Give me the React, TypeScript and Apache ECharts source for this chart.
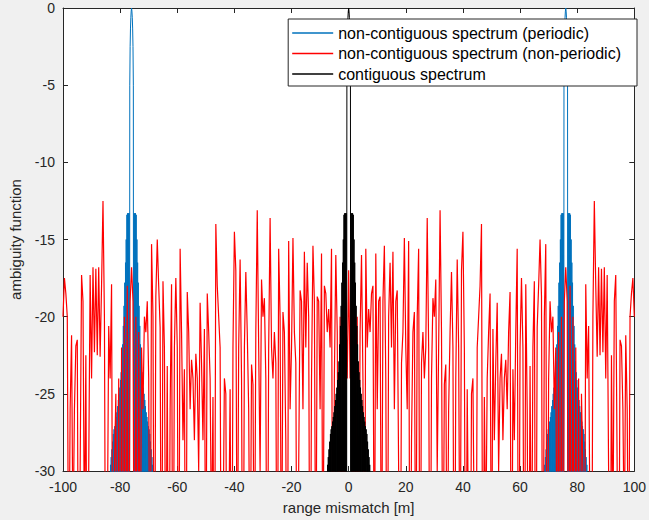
import React, { useEffect, useRef } from "react";
import * as echarts from "echarts";

// Red (non-periodic) ambiguity function, sampled every 0.5 m.
// Left half: -100 .. -0.5 m
const redLeft = [
  -20, -17.5, -18.5, -20, -40, -26, -21.2, -35, -26, -21.9,
  -21.5, -45, -30, -17.3, -19, -35, -22.5, -45, -30, -17.3,
  -24, -16.8, -22.3, -16.9, -22.5, -16.8, -22.6, -18, -12.5, -20,
  -45, -35, -20.6, -24, -17.9, -45, -30, -25, -45, -24,
  -45, -22, -45, -20, -45, -18, -45, -19, -16.8, -19,
  -45, -20, -45, -21, -40, -22, -26, -20, -21, -19.0,
  -24, -45, -15.3, -20, -45, -18.7, -15.0, -18, -20.7, -45,
  -17.7, -22, -40, -23.2, -45, -26, -17.9, -45, -22, -17.5,
  -22, -45, -15.6, -21, -28, -23.4, -45, -18.4, -21, -26,
  -22.8, -24, -28, -22.4, -24, -30, -19.1, -23, -28, -20.8,
  -40, -18.5, -21, -24, -35, -25.2, -45, -14, -18, -20,
  -22, -45, -35, -24, -25, -45, -35, -24.7, -45, -22,
  -14.5, -17, -40, -22, -16.3, -24, -45, -22, -17.1, -21,
  -26, -40, -23.1, -24.4, -40, -21, -13.1, -22, -30, -17.6,
  -20, -18.8, -24, -45, -22, -13.6, -22, -24, -21, -23,
  -45, -15.6, -20, -40, -19.7, -21, -28, -45, -15.1, -26,
  -22, -14.9, -21, -23, -45, -30, -18.3, -19, -26, -15.8,
  -22, -16.5, -20, -45, -24, -15.4, -19, -40, -18.7, -19,
  -26, -15.9, -40, -18, -18.5, -21, -19.5, -22, -15.6, -45,
  -24, -16.0, -21, -40, -20, -45, -21, -40, -19, -24,
];
// Right half: 0 .. 100 m
const redRight = [
  -17, -24, -19, -40, -21, -45, -20, -40, -21, -16.0,
  -24, -45, -15.6, -22, -19.5, -21, -18.5, -18, -40, -15.9,
  -26, -19, -18.7, -40, -19, -15.4, -24, -45, -20, -16.5,
  -22, -15.8, -26, -19, -18.3, -30, -45, -23, -21, -14.9,
  -22, -26, -15.1, -45, -28, -21, -19.7, -40, -20, -15.6,
  -45, -23, -21, -24, -22, -13.6, -22, -45, -24, -18.8,
  -20, -17.6, -30, -22, -13.1, -21, -40, -24.4, -23.1, -40,
  -26, -21, -17.1, -22, -45, -24, -16.3, -22, -40, -17,
  -14.5, -22, -45, -24.7, -35, -45, -25, -24, -35, -45,
  -22, -20, -18, -14, -45, -25.2, -35, -24, -21, -18.5,
  -40, -20.8, -28, -23, -19.1, -30, -24, -22.4, -28, -24,
  -22.8, -26, -21, -18.4, -45, -23.4, -28, -21, -15.6, -45,
  -22, -17.5, -22, -45, -17.9, -26, -45, -23.2, -40, -22,
  -17.7, -45, -20.7, -18, -15.0, -18.7, -45, -20, -15.3, -45,
  -24, -19.0, -21, -20, -26, -22, -40, -21, -45, -20,
  -45, -19, -16.8, -19, -45, -18, -45, -20, -45, -22,
  -45, -24, -45, -25, -30, -45, -17.9, -24, -20.6, -35,
  -45, -20, -12.5, -18, -22.6, -16.8, -22.5, -16.9, -22.3, -16.8,
  -24, -17.3, -30, -45, -22.5, -35, -19, -17.3, -30, -45,
  -21.5, -21.9, -26, -35, -21.2, -26, -40, -20, -18.5, -17.5,
  -20,
];

// Main lobe and sidelobe levels (dB) around a peak, sampled every 0.125 m (offsets -7.75 .. 7.75)
const lobeLevels = [
  -50, -30.2, -50, -29.6, -50, -29.1, -50, -28.6, -50, -28.1,
  -50, -27.6, -50, -27.3, -50, -27.1, -50, -26.8, -50, -26.5,
  -50, -26.2, -50, -25.8, -50, -25.4, -50, -25.0, -50, -24.6,
  -50, -24.1, -50, -23.6, -50, -22.9, -50, -21.8, -50, -20.6,
  -50, -19.3, -50, -17.8, -50, -16.5, -50, -15, -50, -13.4,
  -50, -13.3, -50, -13.3, -50, -13.3, -50, -5, -2.5, -1.3,
  -0.6, -0.2,
  0,
  -0.2, -0.6, -1.3, -2.5, -5, -50,
  -13.3, -50, -13.3, -50, -13.3, -50, -13.4, -50, -15, -50,
  -16.5, -50, -17.8, -50, -19.3, -50, -20.6, -50, -21.8, -50,
  -22.9, -50, -23.6, -50, -24.1, -50, -24.6, -50, -25.0, -50,
  -25.4, -50, -25.8, -50, -26.2, -50, -26.5, -50, -26.8, -50,
  -27.1, -50, -27.3, -50, -27.6, -50, -28.1, -50, -28.6, -50,
  -29.1, -50, -29.6, -50, -30.2, -50,
];
const lobeCenterIndex = 62;
const lobeStep = 0.125;
const blueCenters = [-76, 76];
const blackCenters = [0];

const seriesNames = [
  "non-contiguous spectrum (periodic)",
  "non-contiguous spectrum (non-periodic)",
  "contiguous spectrum",
];
const seriesColors = ["#0072BD", "#FF0000", "#000000"];

const FONT = "'Liberation Sans', Arial, Helvetica, sans-serif";
const AX = "#262626";

function lobeData(centers: number[]) {
  const out: any[] = [];
  centers.forEach((c, idx) => {
    if (idx > 0) out.push([c, "-"]);
    lobeLevels.forEach((v, j) => out.push([c + (j - lobeCenterIndex) * lobeStep, v]));
  });
  return out;
}

export default function App() {
  const ref = useRef<HTMLDivElement>(null);
  useEffect(() => {
    document.body.style.margin = "0";
    const chart = echarts.init(ref.current!, null, { renderer: "svg" });
    const redValues = [...redLeft, ...redRight];
    const redData = redValues.map((v, i) => [-100 + i * 0.5, v]);

    const baseX = {
      type: "value" as const,
      min: -100,
      max: 100,
      interval: 20,
      splitLine: { show: false },
      axisLine: { show: true, onZero: false, lineStyle: { color: AX, width: 1 } },
      axisTick: { show: true, inside: true, length: 5, lineStyle: { color: AX } },
    };
    const baseY = {
      type: "value" as const,
      min: -30,
      max: 0,
      interval: 5,
      splitLine: { show: false },
      axisLine: { show: true, onZero: false, lineStyle: { color: AX, width: 1 } },
      axisTick: { show: true, inside: true, length: 5, lineStyle: { color: AX } },
    };

    chart.setOption({
      animation: false,
      backgroundColor: "#f0f0f0",
      textStyle: { fontFamily: FONT },
      grid: {
        left: 52,
        right: 12,
        top: 8,
        bottom: 49,
        show: true,
        backgroundColor: "#ffffff",
        borderWidth: 0,
      },
      xAxis: [
        {
          ...baseX,
          position: "bottom",
          axisLabel: { color: AX, fontSize: 14, margin: 9, fontFamily: FONT },
          name: "range mismatch [m]",
          nameLocation: "middle",
          nameGap: 29,
          nameTextStyle: { color: AX, fontSize: 15, fontFamily: FONT },
        },
        { ...baseX, position: "top", axisLabel: { show: false } },
      ],
      yAxis: [
        {
          ...baseY,
          position: "left",
          axisLabel: { color: AX, fontSize: 14, margin: 8, fontFamily: FONT },
          name: "ambiguity function",
          nameLocation: "middle",
          nameGap: 40,
          nameTextStyle: { color: AX, fontSize: 15, fontFamily: FONT },
        },
        { ...baseY, position: "right", axisLabel: { show: false } },
      ],
      legend: {
        right: 12,
        top: 19,
        orient: "vertical",
        icon: "rect",
        itemWidth: 41,
        itemHeight: 1.5,
        itemGap: 0.5,
        backgroundColor: "#ffffff",
        borderColor: AX,
        borderWidth: 1,
        borderRadius: 0,
        padding: [4, 16, 2, 4],
        selectedMode: false,
        textStyle: { fontSize: 16, color: "#000", lineHeight: 20, fontFamily: FONT },
        data: seriesNames,
      },
      series: [
        {
          name: seriesNames[0],
          type: "line",
          data: lobeData(blueCenters),
          symbol: "none",
          showSymbol: false,
          lineStyle: { color: seriesColors[0], width: 1 },
          itemStyle: { color: seriesColors[0] },
          clip: true,
        },
        {
          name: seriesNames[1],
          type: "line",
          data: redData,
          symbol: "none",
          showSymbol: false,
          lineStyle: { color: seriesColors[1], width: 1.2 },
          itemStyle: { color: seriesColors[1] },
          clip: true,
        },
        {
          name: seriesNames[2],
          type: "line",
          data: lobeData(blackCenters),
          symbol: "none",
          showSymbol: false,
          lineStyle: { color: seriesColors[2], width: 1 },
          itemStyle: { color: seriesColors[2] },
          clip: true,
        },
      ],
    });
    return () => chart.dispose();
  }, []);
  return <div ref={ref} style={{ width: 649, height: 520 }} />;
}
